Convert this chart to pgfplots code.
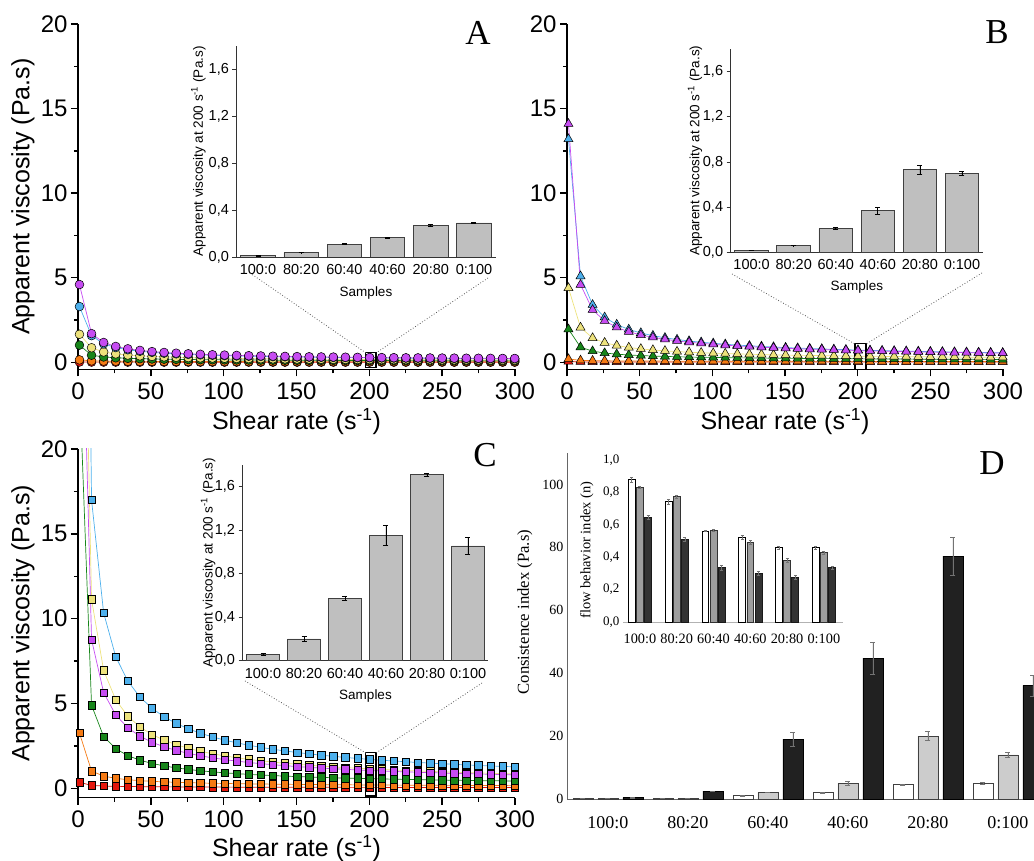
\documentclass[border=0pt]{standalone}
\usepackage{fontspec}
\setmainfont{Liberation Sans}
\newfontfamily\tnr{Liberation Serif}
\usepackage{pgfplots}
\usepackage{pgfplotstable}
\pgfplotsset{compat=1.18}

\definecolor{cred}{HTML}{E3170D}
\definecolor{cora}{HTML}{F57A14}
\definecolor{cgre}{HTML}{17851A}
\definecolor{cyel}{HTML}{EDE27C}
\definecolor{cblu}{HTML}{4DB0EC}
\definecolor{cvio}{HTML}{C64CF2}

% Panel A (circles)
\pgfplotstableread{
x red orange green yellow blue violet
1 0.020 0.15 1.02 1.66 3.3 4.6
9.3 0.017 0.089 0.424 0.865 1.582 1.699
17.6 0.016 0.075 0.321 0.616 1.095 1.176
25.9 0.015 0.068 0.271 0.503 0.877 0.942
34.2 0.015 0.063 0.239 0.434 0.747 0.803
42.5 0.014 0.060 0.218 0.387 0.659 0.708
50.8 0.014 0.057 0.201 0.352 0.595 0.639
59.1 0.014 0.055 0.188 0.325 0.545 0.586
67.4 0.014 0.053 0.178 0.303 0.505 0.543
75.7 0.013 0.052 0.169 0.285 0.473 0.508
84.0 0.013 0.050 0.161 0.269 0.445 0.478
92.3 0.013 0.049 0.155 0.256 0.422 0.453
100.6 0.013 0.048 0.149 0.245 0.401 0.431
108.9 0.013 0.047 0.144 0.235 0.383 0.412
117.2 0.013 0.046 0.139 0.226 0.367 0.395
125.5 0.012 0.045 0.135 0.218 0.353 0.380
133.8 0.012 0.044 0.131 0.210 0.340 0.366
142.1 0.012 0.044 0.128 0.204 0.329 0.354
150.4 0.012 0.043 0.125 0.198 0.318 0.342
158.7 0.012 0.042 0.122 0.192 0.309 0.331
167.0 0.012 0.042 0.119 0.187 0.300 0.322
175.3 0.012 0.041 0.117 0.182 0.292 0.313
183.6 0.012 0.041 0.114 0.178 0.284 0.305
191.9 0.012 0.040 0.112 0.174 0.276 0.297
200.2 0.012 0.040 0.110 0.170 0.270 0.290
208.5 0.012 0.040 0.108 0.166 0.264 0.283
216.8 0.012 0.039 0.106 0.163 0.258 0.277
225.1 0.012 0.039 0.105 0.160 0.252 0.271
233.4 0.011 0.038 0.103 0.157 0.247 0.265
241.7 0.011 0.038 0.101 0.154 0.242 0.260
250.0 0.011 0.038 0.100 0.151 0.238 0.255
258.3 0.011 0.037 0.098 0.149 0.233 0.250
266.6 0.011 0.037 0.097 0.146 0.229 0.246
274.9 0.011 0.037 0.096 0.144 0.225 0.242
283.2 0.011 0.036 0.094 0.141 0.221 0.238
291.5 0.011 0.036 0.093 0.139 0.217 0.233
299.8 0.011 0.036 0.092 0.137 0.214 0.230
}\tabA

% Panel B (triangles)
\pgfplotstableread{
x red orange green yellow blue violet
1 0.05 0.20 1.96 4.4 13.2 14.1
9.3 0.030 0.118 0.900 2.064 5.095 4.592
17.6 0.027 0.102 0.665 1.443 3.401 3.106
25.9 0.025 0.093 0.553 1.163 2.663 2.453
34.2 0.024 0.088 0.486 0.996 2.235 2.068
42.5 0.023 0.084 0.438 0.881 1.947 1.810
50.8 0.023 0.080 0.402 0.797 1.739 1.622
59.1 0.022 0.078 0.374 0.733 1.580 1.479
67.4 0.022 0.075 0.352 0.681 1.454 1.365
75.7 0.021 0.073 0.333 0.638 1.351 1.271
84.0 0.021 0.072 0.317 0.602 1.264 1.191
92.3 0.021 0.070 0.303 0.571 1.191 1.125
100.6 0.020 0.069 0.291 0.544 1.129 1.068
108.9 0.020 0.068 0.280 0.520 1.073 1.016
117.2 0.020 0.067 0.271 0.500 1.024 0.972
125.5 0.019 0.066 0.262 0.481 0.981 0.932
133.8 0.019 0.065 0.254 0.464 0.942 0.896
142.1 0.019 0.064 0.247 0.448 0.907 0.864
150.4 0.019 0.063 0.240 0.434 0.875 0.834
158.7 0.019 0.062 0.234 0.421 0.845 0.807
167.0 0.018 0.061 0.229 0.409 0.818 0.782
175.3 0.018 0.061 0.224 0.398 0.794 0.760
183.6 0.018 0.060 0.219 0.389 0.772 0.738
191.9 0.018 0.060 0.214 0.379 0.750 0.718
200.2 0.018 0.059 0.210 0.370 0.730 0.700
208.5 0.018 0.058 0.206 0.361 0.711 0.683
216.8 0.018 0.058 0.202 0.354 0.694 0.666
225.1 0.017 0.057 0.199 0.346 0.678 0.652
233.4 0.017 0.057 0.195 0.340 0.662 0.637
241.7 0.017 0.057 0.192 0.333 0.648 0.624
250.0 0.017 0.056 0.189 0.327 0.634 0.611
258.3 0.017 0.056 0.186 0.321 0.621 0.599
266.6 0.017 0.055 0.183 0.315 0.609 0.587
274.9 0.017 0.055 0.181 0.310 0.597 0.577
283.2 0.017 0.055 0.178 0.305 0.586 0.566
291.5 0.017 0.054 0.176 0.300 0.575 0.556
299.8 0.016 0.054 0.173 0.295 0.565 0.546
}\tabB

% Panel C (squares)
\pgfplotstableread{
x red orange green yellow blue violet
1 0.36 3.26 24.0 45.0 77.0 36.0
9.3 0.172 1.018 4.90 11.14 17.0 8.771
17.6 0.137 0.725 3.050 6.951 10.34 5.644
25.9 0.120 0.591 2.337 5.221 7.763 4.326
34.2 0.109 0.510 1.929 4.254 6.325 3.570
42.5 0.101 0.455 1.662 3.621 5.385 3.075
50.8 0.094 0.414 1.468 3.173 4.718 2.717
59.1 0.089 0.382 1.323 2.837 4.219 2.449
67.4 0.085 0.356 1.208 2.575 3.829 2.236
75.7 0.082 0.335 1.115 2.360 3.509 2.064
84.0 0.079 0.317 1.037 2.185 3.249 1.920
92.3 0.076 0.301 0.972 2.040 3.034 1.800
100.6 0.074 0.288 0.917 1.914 2.845 1.696
108.9 0.072 0.276 0.868 1.806 2.685 1.606
117.2 0.070 0.266 0.824 1.709 2.541 1.526
125.5 0.068 0.256 0.787 1.625 2.416 1.456
133.8 0.067 0.248 0.752 1.549 2.303 1.393
142.1 0.066 0.240 0.722 1.482 2.204 1.337
150.4 0.064 0.233 0.694 1.421 2.114 1.285
158.7 0.063 0.226 0.669 1.366 2.031 1.239
167.0 0.062 0.220 0.646 1.314 1.955 1.195
175.3 0.061 0.215 0.625 1.268 1.886 1.156
183.6 0.060 0.209 0.605 1.226 1.823 1.120
191.9 0.059 0.205 0.587 1.186 1.763 1.086
200.2 0.058 0.200 0.570 1.150 1.710 1.055
208.5 0.057 0.196 0.554 1.116 1.659 1.025
216.8 0.056 0.192 0.539 1.084 1.613 0.998
225.1 0.056 0.188 0.526 1.055 1.568 0.973
233.4 0.055 0.184 0.512 1.026 1.525 0.948
241.7 0.054 0.181 0.500 1.001 1.488 0.926
250.0 0.054 0.178 0.489 0.976 1.452 0.905
258.3 0.053 0.175 0.478 0.952 1.416 0.885
266.6 0.052 0.172 0.468 0.930 1.383 0.866
274.9 0.052 0.169 0.458 0.910 1.353 0.847
283.2 0.051 0.166 0.449 0.889 1.322 0.830
291.5 0.051 0.164 0.440 0.871 1.294 0.814
299.8 0.050 0.161 0.431 0.853 1.269 0.799
}\tabC

\tikzset{dotl/.style={dotted, black!65, line width=0.8pt}}

\pgfplotsset{
  /pgf/number format/assume math mode=true,
  mainax/.style={scale only axis, axis lines=left,
    axis line style={line width=1.6pt,-},
    tick align=outside, major tick length=7pt, minor tick length=4pt,
    tick style={black, line width=1.4pt},
    xmin=0, xmax=300, ymax=20,
    xtick={0,50,...,300}, minor xtick={25,75,...,275},
    ytick={0,5,...,20}, minor ytick={2.5,7.5,...,17.5},
    ticklabel style={font=\fontsize{24}{24}\selectfont},
    xticklabel style={yshift=-3pt},
    xlabel={Shear rate (s\textsuperscript{-1})},
    xlabel style={font=\fontsize{25}{25}\selectfont, at={(axis description cs:0.5,-0.15)}, anchor=center},
    ylabel style={font=\fontsize{25}{25}\selectfont, at={(axis description cs:-0.126,0.5)}, anchor=center},
    clip mode=global,
  },
  ser/.style 2 args={#1, line width=0.7pt, mark=#2, mark options={fill=#1, draw=black, line width=0.5pt, solid}},
  insetax/.style={scale only axis, axis lines=left,
    axis line style={line width=0.9pt, black!80, -},
    tick align=outside, major tick length=4pt,
    tick style={black!80, line width=0.8pt},
    xtick style={draw=none},
    xmin=-0.5, xmax=5.5, ymin=0, ymax=1.8,
    xtick={0,...,5}, xticklabels={100:0,80:20,60:40,40:60,20:80,0:100},
    ytick={0,0.4,0.8,1.2,1.6},
    yticklabel style={/pgf/number format/.cd, use comma, fixed, fixed zerofill, precision=1},
    ticklabel style={font=\fontsize{14.5}{14.5}\selectfont},
    xlabel={Samples},
    ylabel={Apparent viscosity at 200 s\textsuperscript{-1} (Pa.s)},
    xlabel style={font=\fontsize{13.5}{13.5}\selectfont, anchor=center},
    ylabel style={font=\fontsize{13.5}{13.5}\selectfont, anchor=center},
  },
  ibar/.style={ybar, bar width=0.8, bar shift=0pt, fill=black!25, draw=black!75, line width=0.8pt,
    error bars/.cd, y dir=both, y explicit,
    error bar style={black, line width=0.8pt},
    error mark options={black, rotate=90, mark size=2.5pt, line width=0.8pt}},
  dbar/.style={ybar, bar width=0.25, bar shift=0pt, #1,
    error bars/.cd, y dir=both, y explicit,
    error bar style={black!55, line width=0.6pt},
    error mark options={black!55, rotate=90, mark size=2.5pt, line width=0.6pt}},
  dibar/.style={ybar, bar width=0.19, bar shift=0pt, #1,
    error bars/.cd, y dir=both, y explicit,
    error bar style={black!55, line width=0.5pt},
    error mark options={black!55, rotate=90, mark size=1.5pt, line width=0.5pt}},
}

\begin{document}
\begin{tikzpicture}
\useasboundingbox (0,0) rectangle (1034pt,861pt);

% ---------------- Panel A ----------------
\begin{axis}[mainax, at={(78pt,491.5pt)}, anchor=south west, width=437pt, height=345.5pt,
  ymin=-0.42, ylabel={Apparent viscosity (Pa.s)}]
\addplot[ser={cred}{*}, mark size=4.4pt] table[x=x,y=red]{\tabA};
\addplot[ser={cora}{*}, mark size=4.4pt] table[x=x,y=orange]{\tabA};
\addplot[ser={cgre}{*}, mark size=4.4pt] table[x=x,y=green]{\tabA};
\addplot[ser={cyel}{*}, mark size=4.4pt] table[x=x,y=yellow]{\tabA};
\addplot[ser={cblu}{*}, mark size=4.4pt] table[x=x,y=blue]{\tabA};
\addplot[ser={cvio}{*}, mark size=4.4pt] table[x=x,y=violet]{\tabA};
\draw[line width=1.3pt] (axis cs:197.3,-0.3) rectangle (axis cs:204.6,0.6);
\end{axis}
\begin{axis}[insetax, at={(236.4pt,604pt)}, anchor=south west, width=259.2pt, height=211pt,
  xlabel style={at={(axis description cs:0.5,-0.171)}},
  ylabel style={at={(axis description cs:-0.147,0.5)}}]
\addplot[ibar] coordinates {(0,0.010) +- (0,0.002) (1,0.037) +- (0,0.002) (2,0.110) +- (0,0.003)
  (3,0.165) +- (0,0.005) (4,0.270) +- (0,0.006) (5,0.290) +- (0,0.005)};
\end{axis}
\draw[dotl] (250pt,588pt) -- (366pt,508pt);
\draw[dotl] (488pt,583pt) -- (376pt,508pt);
\node[font=\tnr\fontsize{35}{35}\selectfont] at (478pt,828pt) {A};

% ---------------- Panel B ----------------
\begin{axis}[mainax, at={(567pt,491.5pt)}, anchor=south west, width=436pt, height=345.5pt,
  ymin=-0.42]
\addplot[ser={cred}{triangle*}, mark size=5.2pt] table[x=x,y=red]{\tabB};
\addplot[ser={cora}{triangle*}, mark size=5.2pt] table[x=x,y=orange]{\tabB};
\addplot[ser={cgre}{triangle*}, mark size=5.2pt] table[x=x,y=green]{\tabB};
\addplot[ser={cyel}{triangle*}, mark size=5.2pt] table[x=x,y=yellow]{\tabB};
\addplot[ser={cblu}{triangle*}, mark size=5.2pt] table[x=x,y=blue]{\tabB};
\addplot[ser={cvio}{triangle*}, mark size=5.2pt] table[x=x,y=violet]{\tabB};
\draw[line width=1.3pt] (axis cs:198.2,-0.42) rectangle (axis cs:205.7,1.1);
\end{axis}
\begin{axis}[insetax, at={(730.6pt,608.7pt)}, anchor=south west, width=252.4pt, height=203.2pt,
  xlabel style={at={(axis description cs:0.5,-0.171)}},
  ylabel style={at={(axis description cs:-0.141,0.5)}}]
\addplot[ibar] coordinates {(0,0.018) +- (0,0.002) (1,0.059) +- (0,0.002) (2,0.210) +- (0,0.008)
  (3,0.370) +- (0,0.030) (4,0.730) +- (0,0.040) (5,0.700) +- (0,0.020)};
\end{axis}
\draw[dotl] (732pt,587pt) -- (855pt,517pt);
\draw[dotl] (982pt,588pt) -- (866pt,517pt);
\node[font=\tnr\fontsize{35}{35}\selectfont] at (997pt,829pt) {B};

% ---------------- Panel C ----------------
\begin{axis}[mainax, at={(78pt,63.3pt)}, anchor=south west, width=437pt, height=348.7pt,
  ymin=-0.55, ylabel={Apparent viscosity (Pa.s)},
  xlabel style={at={(axis description cs:0.5,-0.147)}}]
\addplot[ser={cred}{square*}, mark size=3.7pt] table[x=x,y=red]{\tabC};
\addplot[ser={cora}{square*}, mark size=3.7pt] table[x=x,y=orange]{\tabC};
\addplot[ser={cgre}{square*}, mark size=3.7pt] table[x=x,y=green]{\tabC};
\addplot[ser={cyel}{square*}, mark size=3.7pt] table[x=x,y=yellow]{\tabC};
\addplot[ser={cblu}{square*}, mark size=3.7pt] table[x=x,y=blue]{\tabC};
\addplot[ser={cvio}{square*}, mark size=3.7pt] table[x=x,y=violet]{\tabC};
\draw[line width=1.3pt] (axis cs:197.3,-0.45) rectangle (axis cs:204.6,2.1);
\end{axis}
\begin{axis}[insetax, at={(242.5pt,200.3pt)}, anchor=south west, width=246pt, height=195.8pt,
  xlabel style={at={(axis description cs:0.5,-0.18)}},
  ylabel style={at={(axis description cs:-0.14,0.5)}}]
\addplot[ibar] coordinates {(0,0.058) +- (0,0.005) (1,0.200) +- (0,0.020) (2,0.570) +- (0,0.020)
  (3,1.150) +- (0,0.090) (4,1.710) +- (0,0.012) (5,1.055) +- (0,0.080)};
\end{axis}
\draw[dotl] (245pt,180pt) -- (366pt,108pt);
\draw[dotl] (482pt,178pt) -- (376pt,108pt);
\node[font=\tnr\fontsize{35}{35}\selectfont] at (485pt,406pt) {C};

% ---------------- Panel D ----------------
\begin{axis}[scale only axis, at={(567pt,62pt)}, anchor=south west, width=488.8pt, height=346pt,
  axis lines=left, axis line style={black!60, line width=0.9pt, -},
  xmin=-0.51, xmax=5.6, ymin=0, ymax=110,
  major tick length=0pt, tick style={draw=none},
  xtick={0,...,5}, xticklabels={100:0,80:20,60:40,40:60,20:80,0:100},
  ytick={0,20,...,100},
  yticklabel style={font=\tnr\fontsize{14}{14}\selectfont},
  xticklabel style={font=\tnr\fontsize{18}{18}\selectfont, yshift=-14pt},
  ylabel={Consistence index (Pa.s)},
  ylabel style={font=\tnr\fontsize{16.7}{16.7}\selectfont, at={(axis description cs:-0.086,0.54)}, anchor=center},
  clip=false]
\addplot[dbar={fill=white, draw=black!75, line width=0.6pt}] coordinates {
  (-0.3125,0.1) +- (0,0) (0.6875,0.2) +- (0,0) (1.6875,1.1) +- (0,0.1) (2.6875,2.0) +- (0,0.2) (3.6875,4.6) +- (0,0.2) (4.6875,5.0) +- (0,0.3)};
\addplot[dbar={fill=black!20, draw=black!75, line width=0.6pt}] coordinates {
  (0,0.1) +- (0,0) (1,0.2) +- (0,0) (2,2.1) +- (0,0.1) (3,5.0) +- (0,0.7) (4,20.0) +- (0,1.4) (5,14.0) +- (0,0.8)};
\addplot[dbar={fill=black!87, draw=black, line width=0.6pt}] coordinates {
  (0.3125,0.4) +- (0,0.05) (1.3125,2.5) +- (0,0.1) (2.3125,19.0) +- (0,2.2) (3.3125,44.8) +- (0,5.1) (4.3125,77.2) +- (0,6.0) (5.3125,36.1) +- (0,3.3)};
\end{axis}
\begin{axis}[scale only axis, at={(623pt,239pt)}, anchor=south west, width=220pt, height=162pt,
  axis x line*=bottom, axis y line*=left,
  x axis line style={black!30, line width=0.7pt, -},
  y axis line style={draw=none},
  xmin=-0.46, xmax=5.52, ymin=0, ymax=1.0,
  major tick length=0pt, tick style={draw=none},
  xtick={0,...,5}, xticklabels={100:0,80:20,60:40,40:60,20:80,0:100},
  ytick={0,0.2,0.4,0.6,0.8,1.0},
  yticklabels={0{,}0,0{,}2,0{,}4,0{,}6,0{,}8,1{,}0},
  yticklabel style={font=\tnr\fontsize{13}{13}\selectfont},
  xticklabel style={font=\tnr\fontsize{14.3}{14.3}\selectfont, yshift=-8pt},
  ylabel={flow behavior index (n)},
  ylabel style={font=\tnr\fontsize{14.5}{14.5}\selectfont, at={(axis description cs:-0.164,0.444)}, anchor=center},
  clip=false]
\addplot[dibar={fill=white, draw=black, line width=0.6pt}] coordinates {
  (-0.223,0.880) +- (0,0.015) (0.777,0.742) +- (0,0.015) (1.777,0.561) +- (0,0.003) (2.777,0.522) +- (0,0.012) (3.777,0.460) +- (0,0.010) (4.777,0.460) +- (0,0.010)};
\addplot[dibar={fill=black!38, draw=black!80, line width=0.6pt}] coordinates {
  (0,0.830) +- (0,0.005) (1,0.775) +- (0,0.010) (2,0.565) +- (0,0.005) (3,0.491) +- (0,0.012) (4,0.381) +- (0,0.010) (5,0.429) +- (0,0.008)};
\addplot[dibar={fill=black!80, draw=black!90, line width=0.6pt}] coordinates {
  (0.223,0.645) +- (0,0.012) (1.223,0.511) +- (0,0.012) (2.223,0.336) +- (0,0.015) (3.223,0.301) +- (0,0.012) (4.223,0.274) +- (0,0.012) (5.223,0.336) +- (0,0.010)};
\end{axis}
\node[font=\tnr\fontsize{35}{35}\selectfont] at (992pt,398pt) {D};
\end{tikzpicture}
\end{document}
